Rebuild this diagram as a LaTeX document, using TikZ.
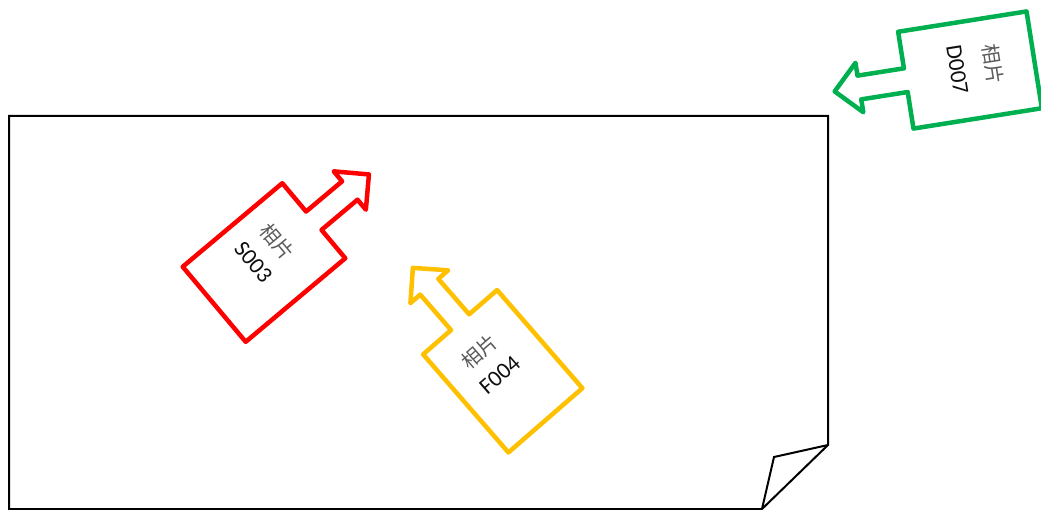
\documentclass[tikz,border=0pt]{standalone}
\usepackage{fontspec}
\setmainfont{Carlito}
\newfontfamily\cjk{Noto Sans CJK SC}
\definecolor{callred}{RGB}{255,0,0}
\definecolor{callyellow}{RGB}{255,192,0}
\definecolor{callgreen}{RGB}{0,176,80}
\definecolor{cjkgray}{RGB}{90,90,90}
\definecolor{codegray}{RGB}{15,15,15}
\tikzset{
  calloutline/.style={line width=4.5pt, line join=round, fill=white},
  calloutlabel/.style={align=center, inner sep=0pt, font=\fontsize{23}{31}\selectfont},
  pagebox/.style={line width=2pt, line join=miter, draw=black}
}
\newcommand{\calloutshape}{(-49,-65) -- (49,-65) -- (49,65) -- (12,65) -- (12,112) -- (25,112) -- (0,137) -- (-25,112) -- (-12,112) -- (-12,65) -- (-49,65) -- cycle}
\newcommand{\cjktext}{{\cjk\fontsize{20}{31}\selectfont\color{cjkgray}相片}}
\begin{document}
\begin{tikzpicture}[x=1pt,y=1pt]
\useasboundingbox (0,0) rectangle (1041,-510);
% page with folded corner
\draw[pagebox] (828,-445) -- (828,-116) -- (9,-116) -- (9,-509) -- (762,-509) -- cycle;
\draw[pagebox] (828,-445) -- (774,-457) -- (762,-509);
% red callout
\begin{scope}[shift={(264,-262.5)}, rotate=-50]
  \draw[calloutline, draw=callred] \calloutshape;
\end{scope}
\node[calloutlabel, rotate=-50] (s003) at (266,-251.5) {\cjktext\\{\color{codegray}S003}};
% yellow callout
\begin{scope}[shift={(502.75,-371.25)}, rotate=41]
  \draw[calloutline, draw=callyellow] \calloutshape;
\end{scope}
\node[calloutlabel, rotate=41] (f004) at (489,-362.5) {\cjktext\\{\color{codegray}F004}};
% green callout
\begin{scope}[shift={(970,-70)}, rotate=99]
  \draw[calloutline, draw=callgreen] \calloutshape;
\end{scope}
\node[calloutlabel, rotate=-81, font=\fontsize{23}{36}\selectfont] (d007) at (976,-67) {{\cjk\fontsize{20}{36}\selectfont\color{cjkgray}相片}\\{\color{codegray}D007}};
\end{tikzpicture}
\end{document}
